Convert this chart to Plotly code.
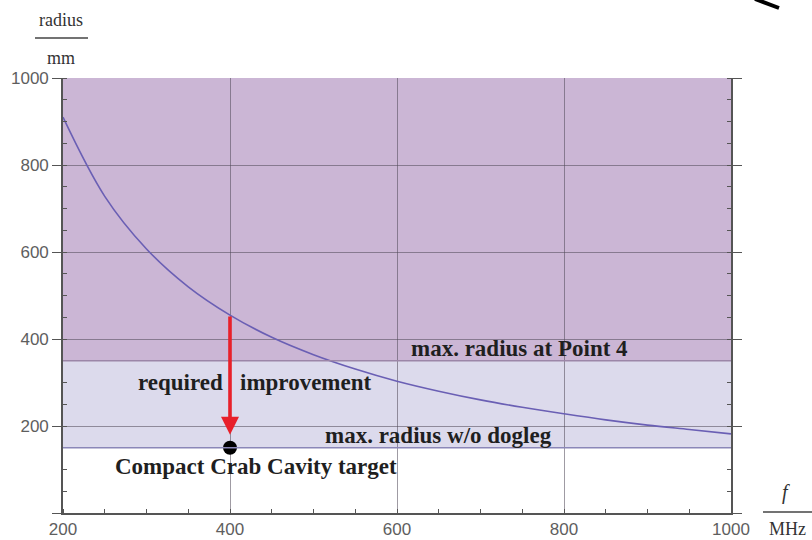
import plotly.graph_objects as go

freq_mhz = [200, 250, 300, 350, 400, 450, 500, 550, 600, 650, 700, 750, 800, 850, 900, 950, 1000]
radius_mm = [910, 728, 607, 520, 455, 404, 364, 331, 303, 280, 260, 243, 228, 214, 202, 192, 182]

# Aperture limits (mm)
limit_point4 = 350
limit_no_dogleg = 150
radius_top = 1000

# Compact crab cavity target point
target_f = 400
target_r = 150

x_ticks = [200, 400, 600, 800, 1000]
x_labels = ["200", "400", "600", "800", "1000"]
y_ticks = [0, 200, 400, 600, 800, 1000]
y_labels = ["", "200", "400", "600", "800", "1000"]

W, H = 812, 540
L, R, T, B = 63, 81, 78, 27
PW, PH = W - L - R, H - T - B


def px(xp):
    return (xp - L) / PW


def py(yp):
    return (H - B - yp) / PH


serif = "Liberation Serif"
label_font = dict(family=serif, size=23, color="#1f1f1f")
title_font = dict(family=serif, size=18, color="#333")

fig = go.Figure()

fig.add_trace(go.Scatter(
    x=freq_mhz, y=radius_mm, mode="lines",
    line=dict(color="#6a5fb4", width=1.6, shape="spline"),
    hoverinfo="skip", showlegend=False,
))

fig.add_trace(go.Scatter(
    x=[target_f], y=[target_r], mode="markers",
    marker=dict(color="black", size=14),
    hoverinfo="skip", showlegend=False,
))

shapes = [
    # band above the Point 4 limit
    dict(type="rect", xref="x", yref="y", x0=freq_mhz[0], x1=freq_mhz[-1],
         y0=limit_point4, y1=radius_top, fillcolor="#cbb6d5", line_width=0, layer="below"),
    # band between the two limits
    dict(type="rect", xref="x", yref="y", x0=freq_mhz[0], x1=freq_mhz[-1],
         y0=limit_no_dogleg, y1=limit_point4, fillcolor="#dcdaec", line_width=0, layer="below"),
    dict(type="line", xref="x", yref="y", x0=freq_mhz[0], x1=freq_mhz[-1],
         y0=limit_point4, y1=limit_point4, line=dict(color="#9c86a8", width=1.6)),
    dict(type="line", xref="x", yref="y", x0=freq_mhz[0], x1=freq_mhz[-1],
         y0=limit_no_dogleg, y1=limit_no_dogleg, line=dict(color="#8b87b8", width=1.6)),
    # fraction bars of the axis labels
    dict(type="line", xref="paper", yref="paper", x0=px(35), x1=px(88), y0=py(38), y1=py(38),
         line=dict(color="#444", width=1.3)),
    dict(type="line", xref="paper", yref="paper", x0=px(763), x1=px(812), y0=py(512), y1=py(512),
         line=dict(color="#444", width=1.3)),
    # dark stroke in the top-right corner
    dict(type="path", xref="paper", yref="paper",
         path=f"M {px(755)} {py(-1)} L {px(779)} {py(8)}",
         line=dict(color="black", width=4)),
]

annotations = [
    dict(x=target_f, y=target_r + 30, ax=target_f, ay=radius_mm[freq_mhz.index(target_f)],
         xref="x", yref="y", axref="x", ayref="y", text="", showarrow=True,
         arrowhead=2, arrowsize=1.0, arrowwidth=3.6, arrowcolor="#e8202a"),
    dict(x=747, y=379, xref="x", yref="y", text="<b>max. radius at Point 4</b>",
         showarrow=False, font=label_font),
    dict(x=430, y=299, xref="x", yref="y", text="<b>required&nbsp;&nbsp;&nbsp;improvement</b>",
         showarrow=False, font=label_font),
    dict(x=650, y=179, xref="x", yref="y", text="<b>max. radius w/o dogleg</b>",
         showarrow=False, font=label_font),
    dict(x=431, y=108, xref="x", yref="y", text="<b>Compact Crab Cavity target</b>",
         showarrow=False, font=label_font),
    dict(x=px(61), y=py(20), xref="paper", yref="paper", text="radius",
         xanchor="center", yanchor="middle", showarrow=False, font=title_font),
    dict(x=px(61), y=py(58), xref="paper", yref="paper", text="mm",
         xanchor="center", yanchor="middle", showarrow=False, font=title_font),
    dict(x=px(786), y=py(492), xref="paper", yref="paper", text="<i>f</i>",
         xanchor="center", yanchor="middle", showarrow=False, font=dict(family=serif, size=20, color="#333")),
    dict(x=px(787), y=py(529), xref="paper", yref="paper", text="MHz",
         xanchor="center", yanchor="middle", showarrow=False, font=title_font),
]

axis_common = dict(
    showgrid=True, gridcolor="rgba(80,72,88,0.55)", gridwidth=1.4,
    showline=True, linecolor="#555", linewidth=1.6,
    zeroline=False, automargin=False,
    tickfont=dict(family="Liberation Sans", size=17, color="#5e5e5e"),
)

fig.update_layout(
    width=W, height=H,
    margin=dict(l=L, r=R, t=T, b=B, pad=0),
    paper_bgcolor="white", plot_bgcolor="white",
    showlegend=False,
    shapes=shapes, annotations=annotations,
    xaxis=dict(range=[200, 1000], tickvals=x_ticks, ticktext=x_labels, ticks="", **axis_common,
               minor=dict(ticks="inside", ticklen=4, tickcolor="#555", dtick=50, showgrid=False)),
    yaxis=dict(range=[0, 1000], tickvals=y_ticks, ticktext=y_labels, ticks="outside", ticklen=9,
               tickcolor="#555", mirror="ticks", **axis_common,
               minor=dict(ticks="inside", ticklen=4, tickcolor="#555", dtick=50, showgrid=False)),
)

fig.write_html("out.html")
